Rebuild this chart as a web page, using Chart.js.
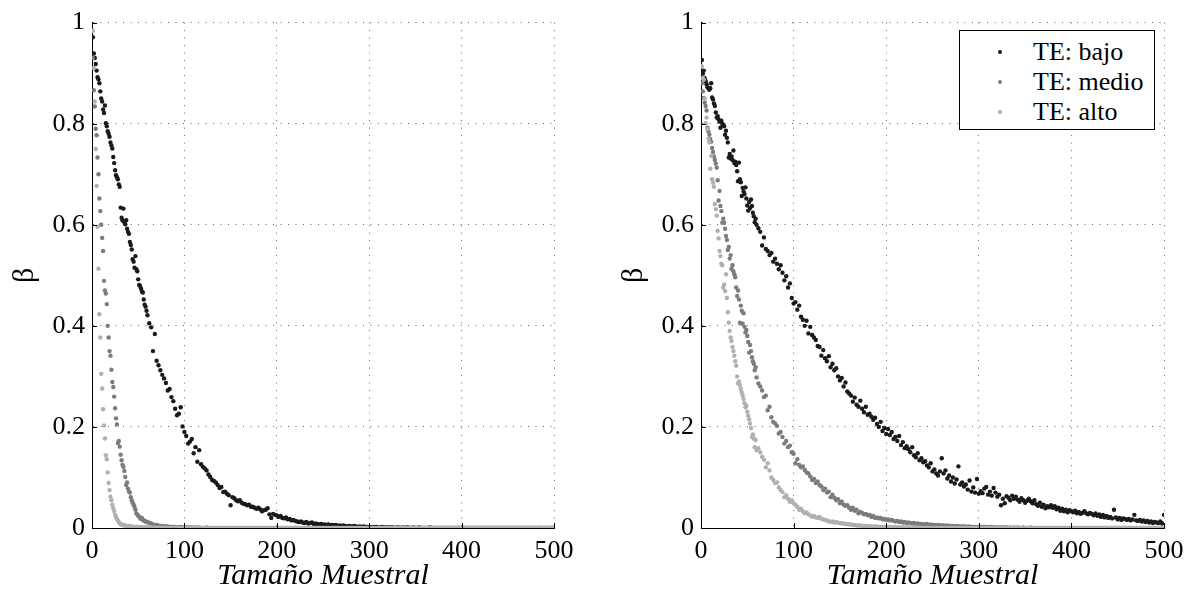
<!DOCTYPE html>
<html>
<head>
<meta charset="utf-8">
<script src="https://cdn.jsdelivr.net/npm/chart.js@4.4.0/dist/chart.umd.min.js"></script>
<style>
  body { margin: 0; background: #fff; width: 1195px; height: 592px; position: relative; overflow: hidden; font-family: 'Liberation Serif', serif; }
  #left { position: absolute; left: 0; top: 0; }
  #right { position: absolute; left: 609px; top: 0; }
  #legend { position: absolute; left: 959px; top: 30px; width: 196px; height: 100px; box-sizing: border-box; border: 1px solid #000; background: #fff; }
  #legend .row { position: absolute; left: 0; height: 30px; line-height: 30px; font-size: 26px; color: #000; white-space: nowrap; }
  #legend .dot { position: absolute; left: 38px; top: 13px; width: 4px; height: 4px; border-radius: 50%; }
  #legend .txt { position: absolute; left: 73px; top: 0; }
</style>
</head>
<body>
<canvas id="left" width="597" height="592"></canvas>
<canvas id="right" width="586" height="592"></canvas>
<div id="legend"></div>
<script>
const xTicks = [0, 100, 200, 300, 400, 500];
const yTicks = [0, 0.2, 0.4, 0.6, 0.8, 1];
const xTitle = 'Tamaño Muestral';
const yTitle = 'β';
const seriesNames = ['TE: bajo', 'TE: medio', 'TE: alto'];
const seriesColors = ['#1a1a1a', '#7c7c7c', '#b0b0b0'];

// sample sizes (x) shared by every series
const sizes = [
  1,2,3,4,5,6,7,8,9,10, 11,12,13,14,15,16,17,18,19,20, 21,22,23,24,25,26,27,28,29,30,
  31,32,33,34,35,36,37,38,39,40, 41,42,43,44,45,46,47,48,49,50, 51,52,53,54,55,56,57,58,59,60,
  62,64,66,68,70,72,74,76,78,80, 82,84,86,88,90,92,94,96,98,100,
  102,104,106,108,110,112,114,116,118,120, 122,124,126,128,130,132,134,136,138,140,
  142,144,146,148,150,152,154,156,158,160, 162,164,166,168,170,172,174,176,178,180,
  182,184,186,188,190,192,194,196,198,200, 202,204,206,208,210,212,214,216,218,220,
  222,224,226,228,230,232,234,236,238,240, 242,244,246,248,250,252,254,256,258,260,
  262,264,266,268,270,272,274,276,278,280, 282,284,286,288,290,292,294,296,298,300,
  302,304,306,308,310,312,314,316,318,320, 322,324,326,328,330,332,334,336,338,340,
  342,344,346,348,350,352,354,356,358,360, 362,364,366,368,370,372,374,376,378,380,
  382,384,386,388,390,392,394,396,398,400, 402,404,406,408,410,412,414,416,418,420,
  422,424,426,428,430,432,434,436,438,440, 442,444,446,448,450,452,454,456,458,460,
  462,464,466,468,470,472,474,476,478,480, 482,484,486,488,490,492,494,496,498,500
];

// left panel
const leftLow = [
  .971,.939,.930,.918,.905,.892,.888,.880,.864,.850,
  .844,.828,.821,.836,.801,.795,.785,.780,.774,.763,
  .757,.751,.734,.722,.708,.698,.694,.690,.680,.675,
  .634,.614,.609,.632,.605,.601,.609,.592,.586,.582,
  .566,.560,.551,.532,.527,.515,.538,.512,.508,.492,
  .481,.479,.474,.468,.466,.452,.442,.438,.430,.421,
  .405,.397,.350,.384,.331,.322,.312,.303,.296,.287,
  .272,.275,.259,.251,.236,.223,.226,.239,.201,.190,
  .182,.167,.171,.176,.148,.160,.131,.154,.126,.121,
  .118,.114,.106,.101,.095,.093,.090,.085,.079,.081,
  .071,.072,.068,.065,.045,.061,.059,.055,.053,.055,
  .050,.048,.047,.045,.046,.042,.042,.040,.038,.040,
  .037,.033,.035,.036,.039,.027,.020,.028,.026,.025,
  .022,.024,.020,.019,.021,.017,.018,.015,.016,.014,
  .013,.012,.013,.011,.010,.012,.009,.010,.011,.008,
  .009,.008,.007,.008,.006,.007,.006,.007,.005,.006,
  .005,.006,.004,.005,.004,.005,.004,.003,.004,.003,
  .003,.004,.003,.002,.003,.002,.003,.002,.002,.002,
  .002,.001,.002,.002,.001,.001,.002,.001,.001,.001,
  .001,.001,.001,0,.001,.001,0,.001,0,.001,
  .001,0,0,.001,0,0,.001,0,0,0,
  0,0,.001,0,0,0,0,0,0,0,
  0,0,0,0,0,0,0,0,0,0,
  0,0,0,0,0,0,0,0,0,0,
  0,0,0,0,0,0,0,0,0,0,
  0,0,0,0,0,0,0,0,0,0,
  0,0,0,0,0,0,0,0,0,0,
  0,0,0,0,0,0,0,0,0,0
];
const leftMid = [
  .930,.866,.834,.790,.777,.733,.700,.652,.627,.600,
  .574,.548,.489,.470,.464,.443,.400,.377,.350,.341,
  .313,.289,.279,.260,.237,.217,.205,.168,.172,.161,
  .145,.134,.125,.121,.113,.101,.085,.090,.078,.072,
  .070,.061,.055,.050,.046,.042,.036,.029,.027,.024,
  .023,.020,.018,.020,.016,.015,.014,.013,.012,.012,
  .010,.009,.007,.006,.006,.005,.004,.004,.003,.003,
  .003,.002,.002,.002,.002,.001,.001,.002,.001,.001,
  .001,.001,.001,.001,0,.001,0,.001,0,0,
  0,.001,0,0,0,0,0,0,0,0,
  0,0,0,0,0,0,0,0,0,0,
  0,0,0,0,0,0,0,0,0,0,
  0,0,0,0,0,0,0,0,0,0,
  0,0,0,0,0,0,0,0,0,0,
  0,0,0,0,0,0,0,0,0,0,
  0,0,0,0,0,0,0,0,0,0,
  0,0,0,0,0,0,0,0,0,0,
  0,0,0,0,0,0,0,0,0,0,
  0,0,0,0,0,0,0,0,0,0,
  0,0,0,0,0,0,0,0,0,0,
  0,0,0,0,0,0,0,0,0,0,
  0,0,0,0,0,0,0,0,0,0,
  0,0,0,0,0,0,0,0,0,0,
  0,0,0,0,0,0,0,0,0,0,
  0,0,0,0,0,0,0,0,0,0,
  0,0,0,0,0,0,0,0,0,0,
  0,0,0,0,0,0,0,0,0,0,
  0,0,0,0,0,0,0,0,0,0
];
const leftHigh = [
  .984,.910,.844,.750,.677,.596,.513,.423,.377,.305,
  .276,.235,.203,.177,.144,.136,.110,.089,.075,.062,
  .055,.046,.039,.033,.026,.022,.018,.015,.012,.009,
  .008,.007,.006,.006,.005,.005,.004,.004,.004,.003,
  .003,.003,.003,.002,.002,.002,.002,.002,.002,.002,
  .002,.001,.001,.002,.001,.001,.001,.001,.001,.001,
  .001,.001,0,.001,0,0,.001,0,0,0,
  0,0,0,0,0,0,0,0,0,0,
  0,0,0,0,0,0,0,0,0,0,
  0,0,0,0,0,0,0,0,0,0,
  0,0,0,0,0,0,0,0,0,0,
  0,0,0,0,0,0,0,0,0,0,
  0,0,0,0,0,0,0,0,0,0,
  0,0,0,0,0,0,0,0,0,0,
  0,0,0,0,0,0,0,0,0,0,
  0,0,0,0,0,0,0,0,0,0,
  0,0,0,0,0,0,0,0,0,0,
  0,0,0,0,0,0,0,0,0,0,
  0,0,0,0,0,0,0,0,0,0,
  0,0,0,0,0,0,0,0,0,0,
  0,0,0,0,0,0,0,0,0,0,
  0,0,0,0,0,0,0,0,0,0,
  0,0,0,0,0,0,0,0,0,0,
  0,0,0,0,0,0,0,0,0,0,
  0,0,0,0,0,0,0,0,0,0,
  0,0,0,0,0,0,0,0,0,0,
  0,0,0,0,0,0,0,0,0,0,
  0,0,0,0,0,0,0,0,0,0
];

// right panel
const rightLow = [
  .926,.899,.905,.890,.884,.878,.872,.870,.867,.870,
  .880,.852,.848,.840,.835,.822,.812,.815,.809,.804,
  .792,.806,.800,.797,.795,.778,.786,.772,.763,.733,
  .740,.731,.735,.728,.747,.722,.725,.718,.706,.686,
  .723,.690,.684,.657,.673,.666,.661,.674,.652,.638,
  .628,.645,.633,.650,.637,.624,.617,.605,.612,.600,
  .593,.586,.559,.575,.552,.548,.540,.544,.527,.533,
  .523,.512,.520,.505,.490,.498,.476,.484,.455,.444,
  .447,.432,.440,.418,.412,.400,.410,.385,.398,.382,
  .377,.372,.360,.358,.341,.352,.336,.330,.340,.318,
  .325,.312,.316,.300,.292,.297,.280,.288,.270,.266,
  .262,.250,.258,.244,.240,.252,.236,.229,.240,.224,
  .226,.220,.214,.218,.206,.200,.210,.192,.198,.186,
  .196,.184,.190,.176,.180,.172,.182,.164,.170,.158,
  .162,.156,.150,.160,.144,.140,.148,.134,.138,.130,
  .132,.124,.120,.128,.112,.116,.108,.104,.112,.138,
  .108,.114,.098,.104,.092,.100,.088,.096,.122,.086,
  .090,.082,.086,.076,.094,.072,.080,.070,.097,.068,
  .073,.069,.078,.081,.066,.072,.064,.079,.070,.062,
  .066,.045,.058,.049,.063,.060,.055,.064,.058,.062,
  .056,.052,.059,.055,.050,.054,.058,.053,.049,.055,
  .047,.044,.050,.042,.046,.039,.043,.041,.045,.040,
  .043,.037,.040,.034,.038,.033,.036,.031,.035,.033,
  .031,.034,.029,.032,.028,.030,.033,.029,.027,.030,
  .028,.025,.029,.024,.027,.022,.026,.021,.024,.020,
  .022,.019,.036,.021,.017,.020,.016,.019,.018,.016,
  .018,.015,.017,.026,.015,.014,.016,.013,.015,.012,
  .014,.011,.013,.010,.012,.011,.010,.013,.009,.026
];
const rightMid = [
  .880,.864,.851,.842,.835,.826,.792,.785,.778,.770,
  .764,.752,.744,.735,.728,.721,.713,.688,.648,.667,
  .637,.627,.604,.612,.604,.592,.578,.570,.550,.556,
  .533,.540,.513,.520,.508,.502,.496,.476,.459,.470,
  .452,.406,.440,.430,.404,.425,.398,.387,.392,.380,
  .368,.347,.362,.350,.338,.330,.325,.312,.318,.298,
  .286,.280,.272,.259,.262,.233,.240,.219,.210,.207,
  .202,.187,.190,.180,.167,.172,.160,.163,.150,.147,
  .128,.136,.125,.120,.122,.115,.110,.108,.102,.095,
  .097,.089,.092,.085,.082,.075,.078,.070,.072,.061,
  .066,.060,.055,.057,.049,.052,.046,.044,.045,.040,
  .036,.040,.034,.036,.029,.032,.030,.027,.028,.025,
  .026,.022,.024,.020,.021,.019,.020,.017,.018,.016,
  .017,.015,.016,.014,.013,.014,.012,.013,.011,.012,
  .010,.011,.010,.009,.010,.008,.009,.008,.008,.007,
  .007,.008,.006,.007,.006,.006,.005,.006,.005,.005,
  .005,.004,.005,.004,.004,.004,.003,.004,.003,.003,
  .003,.003,.003,.002,.003,.002,.002,.002,.002,.002,
  .002,.002,.002,.002,.001,.002,.002,.001,.001,.001,
  .001,.001,.001,.001,.001,0,.001,0,.001,0,
  .001,0,0,.001,0,0,0,.001,0,0,
  0,0,0,0,0,0,0,0,0,0,
  0,0,0,0,0,0,0,0,0,0,
  0,0,0,0,0,0,0,0,0,0,
  0,0,0,0,0,0,0,0,0,0,
  0,0,0,0,0,0,0,0,0,0,
  0,0,0,0,0,0,0,0,0,0,
  0,0,0,0,0,0,0,0,0,0
];
const rightHigh = [
  .913,.890,.887,.850,.801,.812,.789,.770,.763,.711,
  .736,.690,.683,.675,.641,.631,.618,.588,.573,.548,
  .538,.523,.520,.476,.482,.469,.502,.455,.427,.406,
  .390,.377,.370,.358,.350,.341,.330,.321,.300,.286,
  .290,.283,.275,.268,.262,.255,.247,.239,.242,.230,
  .222,.215,.207,.198,.180,.185,.177,.160,.174,.154,
  .158,.150,.141,.135,.120,.128,.114,.100,.095,.089,
  .090,.080,.075,.071,.061,.065,.058,.052,.055,.049,
  .046,.042,.036,.038,.033,.029,.031,.027,.025,.022,
  .024,.021,.020,.022,.018,.017,.016,.015,.013,.012,
  .013,.011,.012,.010,.010,.009,.009,.008,.008,.007,
  .007,.006,.006,.005,.005,.005,.004,.004,.004,.004,
  .003,.003,.003,.003,.003,.002,.002,.002,.002,.002,
  .002,.002,.002,.001,.002,.001,.001,.001,.001,.001,
  .001,.001,.001,.001,0,.001,0,.001,0,0,
  0,0,0,0,0,0,0,0,0,0,
  0,0,0,0,0,0,0,0,0,0,
  0,0,0,0,0,0,0,0,0,0,
  0,0,0,0,0,0,0,0,0,0,
  0,0,0,0,0,0,0,0,0,0,
  0,0,0,0,0,0,0,0,0,0,
  0,0,0,0,0,0,0,0,0,0,
  0,0,0,0,0,0,0,0,0,0,
  0,0,0,0,0,0,0,0,0,0,
  0,0,0,0,0,0,0,0,0,0,
  0,0,0,0,0,0,0,0,0,0,
  0,0,0,0,0,0,0,0,0,0,
  0,0,0,0,0,0,0,0,0,0
];

Chart.defaults.font.family = "'Liberation Serif', 'Times New Roman', serif";
Chart.defaults.color = '#000';

// short inward tick marks on the left and bottom axes
const innerTicks = {
  id: 'innerTicks',
  afterDatasetsDraw(chart) {
    const { ctx, chartArea, scales: { x, y } } = chart;
    ctx.save();
    ctx.strokeStyle = '#000';
    ctx.lineWidth = 1;
    ctx.beginPath();
    xTicks.forEach(v => {
      const px = Math.round(x.getPixelForValue(v)) + 0.5;
      ctx.moveTo(px, chartArea.bottom);
      ctx.lineTo(px, chartArea.bottom - 5);
    });
    yTicks.forEach(v => {
      const py = Math.round(y.getPixelForValue(v)) + 0.5;
      ctx.moveTo(chartArea.left, py);
      ctx.lineTo(chartArea.left + 5, py);
    });
    ctx.stroke();
    ctx.restore();
  }
};

function makeChart(id, padRight, series) {
  const datasets = series.map((vals, i) => ({
    label: seriesNames[i],
    data: sizes.map((n, j) => ({ x: n, y: vals[j] })),
    backgroundColor: seriesColors[i],
    pointRadius: 2.2,
    pointHoverRadius: 2.2,
    pointBorderWidth: 0,
    order: 3 - i,
  }));
  const gridOpts = { color: '#666', lineWidth: 1, drawTicks: false };
  const borderOpts = { display: true, color: '#000', width: 1, dash: [1, 6.5] };
  return new Chart(document.getElementById(id), {
    type: 'scatter',
    data: { datasets },
    options: {
      responsive: false,
      animation: false,
      events: [],
      layout: { padding: { top: 21, right: padRight, bottom: 0, left: 0 } },
      plugins: { legend: { display: false }, tooltip: { enabled: false } },
      scales: {
        x: {
          type: 'linear', min: 0, max: 500,
          afterBuildTicks: s => { s.ticks = xTicks.map(v => ({ value: v })); },
          afterFit: s => { s.height = 64; },
          ticks: { font: { size: 26 }, padding: 8, maxRotation: 0, callback: v => String(v) },
          grid: gridOpts,
          border: borderOpts,
          title: { display: true, text: xTitle, font: { size: 30, style: 'italic', lineHeight: 1 }, padding: { top: 0, bottom: 1 } },
        },
        y: {
          type: 'linear', min: 0, max: 1,
          afterBuildTicks: s => { s.ticks = yTicks.map(v => ({ value: v })); },
          afterFit: s => { s.width = 92; },
          ticks: { font: { size: 26 }, padding: 7, callback: v => String(v) },
          grid: gridOpts,
          border: borderOpts,
          title: { display: true, text: yTitle, font: { size: 30, lineHeight: 1.2 }, padding: { top: 7, bottom: 0 } },
        },
      },
    },
    plugins: [innerTicks],
  });
}

makeChart('left', 43, [leftLow, leftMid, leftHigh]);
makeChart('right', 31, [rightLow, rightMid, rightHigh]);

const legend = document.getElementById('legend');
seriesNames.forEach((name, i) => {
  const row = document.createElement('div');
  row.className = 'row';
  row.style.top = (6 + i * 30) + 'px';
  row.innerHTML = `<span class="dot" style="background:${seriesColors[i]}"></span><span class="txt">${name}</span>`;
  legend.appendChild(row);
});
</script>
</body>
</html>
